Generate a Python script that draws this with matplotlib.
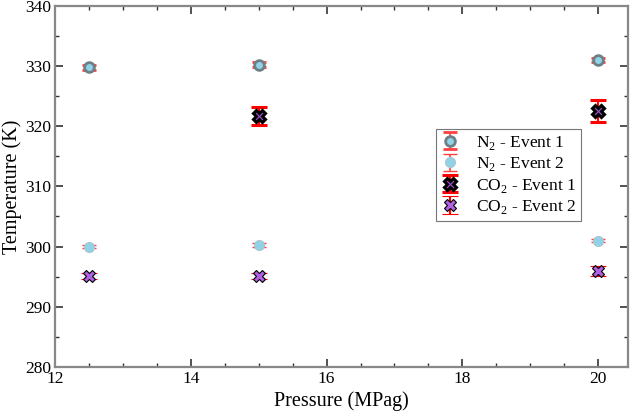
import numpy as np
import matplotlib.pyplot as plt
from matplotlib.ticker import MultipleLocator

plt.rcParams['font.family'] = ['Liberation Serif', 'DejaVu Serif']
plt.rcParams['mathtext.fontset'] = 'custom'
plt.rcParams['mathtext.rm'] = 'Liberation Serif'

# data
p_n2 = [12.5, 15, 20]
t_n2_e1 = [329.8, 330.2, 331.0]
err_n2_e1 = [0.4, 0.4, 0.4]
t_n2_e2 = [300.0, 300.3, 301.0]
err_n2_e2 = [0.3, 0.3, 0.3]

p_co2_e1 = [15, 20]
t_co2_e1 = [321.7, 322.5]
err_co2_e1 = [1.5, 1.8]

p_co2_e2 = [12.5, 15, 20]
t_co2_e2 = [295.1, 295.1, 295.9]
err_co2_e2 = [0.5, 0.5, 0.8]

fig = plt.figure(figsize=(6.36, 4.16), dpi=100)
ax = fig.add_axes([0.087, 0.118, 0.9, 0.868])

ax.errorbar(p_n2, t_n2_e1, yerr=err_n2_e1, fmt='o', ms=7, mfc='#8fd3e8', mec='#6e7f86',
            mew=2.0, ecolor='#ff4040', elinewidth=1.2, capsize=5, capthick=1.2,
            label=r'N$_2$ - Event 1', zorder=3)
ax.errorbar(p_n2, t_n2_e2, yerr=err_n2_e2, fmt='o', ms=7, mfc='#8fd3e8', mec='#a8c8d0',
            mew=1.0, ecolor='#ff4040', elinewidth=1.2, capsize=5, capthick=1.2,
            label=r'N$_2$ - Event 2', zorder=3)
ax.errorbar(p_co2_e1, t_co2_e1, yerr=err_co2_e1, fmt='X', ms=9, mfc='#a050d0', mec='black',
            mew=2.2, ecolor='red', elinewidth=1.5, capsize=6, capthick=1.5,
            label=r'CO$_2$ - Event 1', zorder=3)
ax.errorbar(p_co2_e2, t_co2_e2, yerr=err_co2_e2, fmt='X', ms=9, mfc='#b060e0', mec='black',
            mew=0.8, ecolor='red', elinewidth=1.5, capsize=6, capthick=1.5,
            label=r'CO$_2$ - Event 2', zorder=3)

ax.set_xlim(12, 20.44)
ax.set_ylim(280, 340)
ax.xaxis.set_major_locator(MultipleLocator(2))
ax.xaxis.set_minor_locator(MultipleLocator(0.5))
ax.yaxis.set_major_locator(MultipleLocator(10))
ax.yaxis.set_minor_locator(MultipleLocator(5))
ax.tick_params(which='both', direction='in', top=True, right=True, labelsize=12.5, color='#333333')
ax.tick_params(which='major', length=6, width=1.2, pad=3)
ax.tick_params(which='minor', length=3, width=1.0)
for s in ax.spines.values():
    s.set_color('#888888')
    s.set_linewidth(1.6)

ax.set_xlabel('Pressure (MPag)', fontsize=14.5, labelpad=3)
ax.set_ylabel('Temperature (K)', fontsize=14.5, labelpad=2)

leg = ax.legend(loc='upper left', bbox_to_anchor=(0.665, 0.66), fontsize=12.5, frameon=True,
                fancybox=False, handlelength=1.0, handletextpad=1.0, borderpad=0.3,
                labelspacing=0.2, edgecolor='#555555', borderaxespad=0)
leg.get_frame().set_linewidth(0.8)

fig.savefig('out.png', dpi=100)
